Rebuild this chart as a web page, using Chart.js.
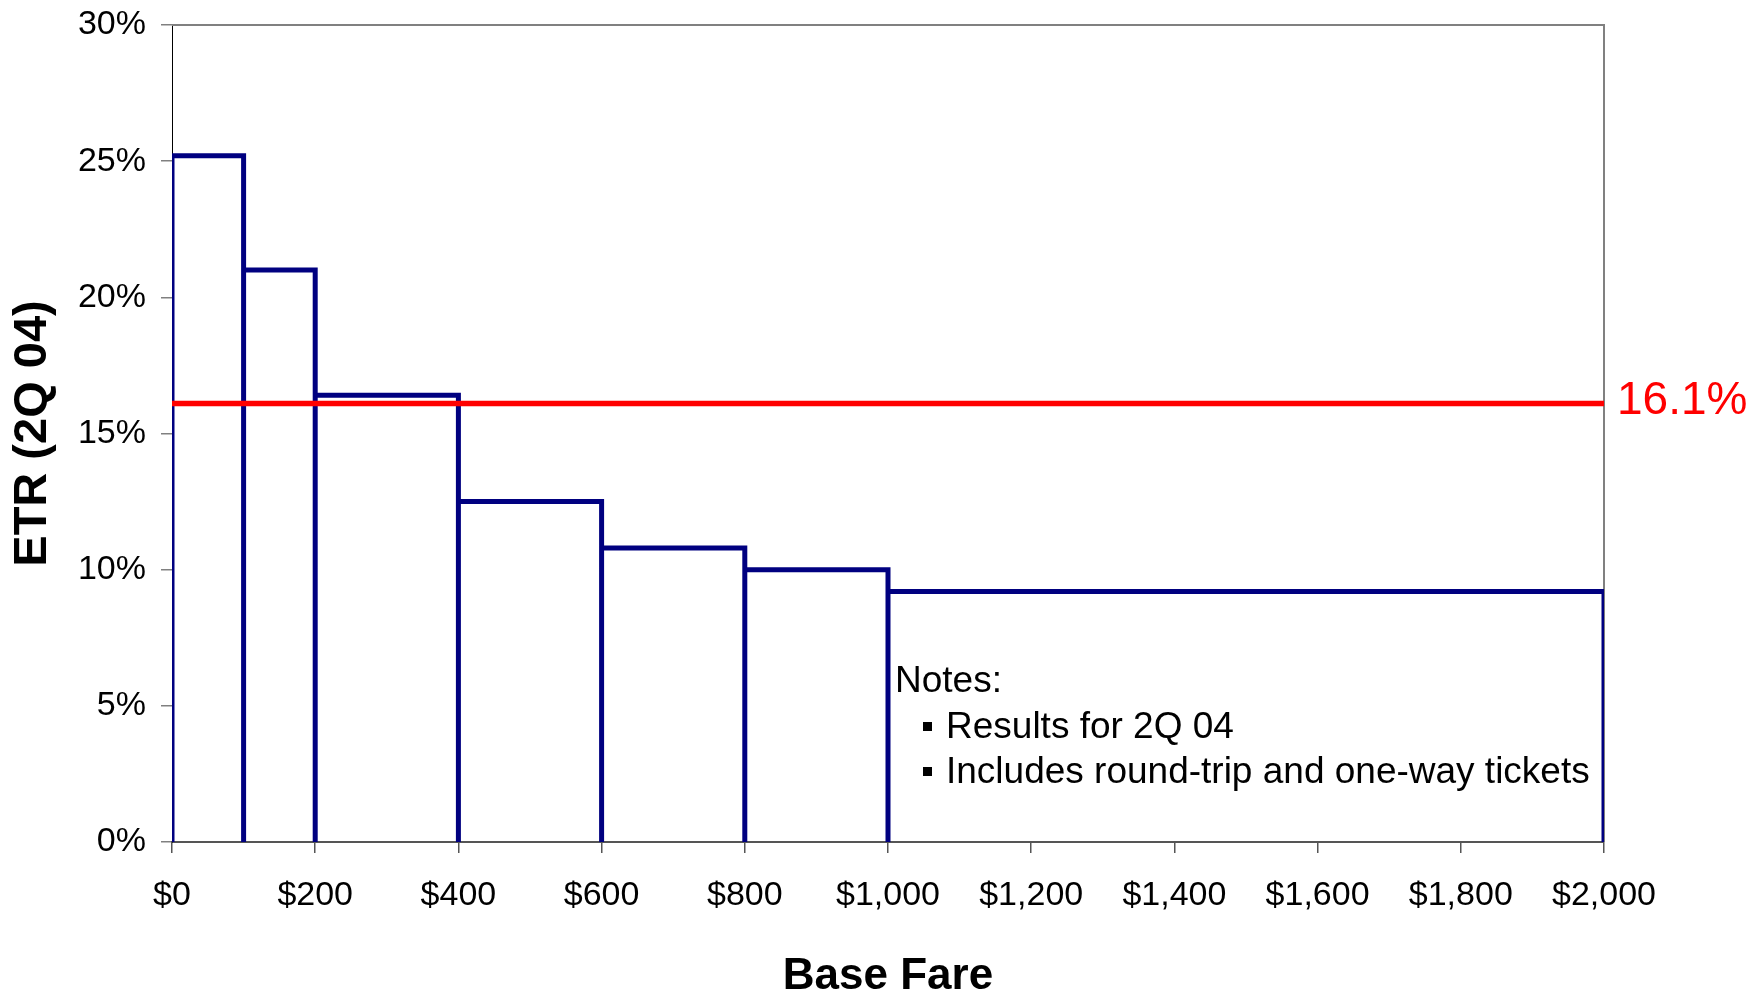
<!DOCTYPE html>
<html>
<head>
<meta charset="utf-8">
<script src="https://cdn.jsdelivr.net/npm/chart.js@4"></script>
<style>
  html, body { margin: 0; padding: 0; background: #fff; }
</style>
</head>
<body>
<canvas id="chart" width="1755" height="992"></canvas>
<script>
// fare bands ($) and effective tax rate (%) per band
const fareEdges = [0, 100, 200, 400, 600, 800, 1000, 2000];
const etrValues = [25.2, 21.0, 16.4, 12.5, 10.8, 10.0, 9.2];
const averageEtr = 16.1;
const xTickValues = [0, 200, 400, 600, 800, 1000, 1200, 1400, 1600, 1800, 2000];
const yTickValues = [0, 5, 10, 15, 20, 25, 30];
const noteLines = ['Results for 2Q 04', 'Includes round-trip and one-way tickets'];

const FONT = "'Liberation Sans', Arial, sans-serif";

// each band is drawn as an open box: up, across, down
const stepPoints = [];
etrValues.forEach((v, i) => {
  stepPoints.push({ x: fareEdges[i], y: 0 });
  stepPoints.push({ x: fareEdges[i], y: v });
  stepPoints.push({ x: fareEdges[i + 1], y: v });
  stepPoints.push({ x: fareEdges[i + 1], y: 0 });
});

const avgPoints = [
  { x: fareEdges[0], y: averageEtr },
  { x: fareEdges[fareEdges.length - 1], y: averageEtr }
];

const framePlugin = {
  id: 'frame',
  beforeDatasetsDraw(chart) {
    const { ctx, chartArea: a } = chart;
    ctx.save();
    ctx.strokeStyle = '#808080';
    ctx.lineWidth = 2;
    ctx.beginPath();
    ctx.moveTo(a.left, a.top);
    ctx.lineTo(a.right, a.top);
    ctx.lineTo(a.right, a.bottom);
    ctx.stroke();
    ctx.restore();
  },
  afterDatasetsDraw(chart) {
    const { ctx, chartArea: a, scales } = chart;
    ctx.save();

    // average label at the end of the red line
    ctx.fillStyle = '#ff0000';
    ctx.font = '46px ' + FONT;
    ctx.textBaseline = 'middle';
    ctx.textAlign = 'left';
    ctx.fillText(averageEtr.toFixed(1) + '%', a.right + 13, scales.y.getPixelForValue(averageEtr) - 2);

    // notes block
    const nx = scales.x.getPixelForValue(1000) + 7;
    ctx.fillStyle = '#000';
    ctx.font = '37px ' + FONT;
    ctx.fillText('Notes:', nx, 682);
    noteLines.forEach((line, i) => {
      const ly = 728 + i * 45;
      ctx.fillRect(nx + 28, ly - 6, 9, 9);
      ctx.fillText(line, nx + 51, ly);
    });
    ctx.restore();
  }
};

new Chart(document.getElementById('chart'), {
  type: 'line',
  data: {
    datasets: [
      {
        data: avgPoints,
        borderColor: '#ff0000',
        borderWidth: 5.5,
        pointRadius: 0,
        order: 0
      },
      {
        data: stepPoints,
        borderColor: '#000080',
        borderWidth: 5,
        pointRadius: 0,
        borderJoinStyle: 'miter',
        order: 1
      }
    ]
  },
  options: {
    responsive: false,
    animation: false,
    devicePixelRatio: 1,
    layout: { padding: { top: 25, right: 151, left: 0, bottom: 0 } },
    plugins: {
      legend: { display: false },
      tooltip: { enabled: false }
    },
    scales: {
      x: {
        type: 'linear',
        min: 0,
        max: 2000,
        afterBuildTicks: s => { s.ticks = xTickValues.map(v => ({ value: v })); },
        afterFit: s => { s.height = 150; },
        ticks: {
          color: '#000',
          font: { family: FONT, size: 34 },
          padding: 22,
          maxRotation: 0,
          autoSkip: false,
          callback: v => '$' + v.toLocaleString('en-US')
        },
        grid: { drawOnChartArea: false, tickLength: 11, color: '#555', lineWidth: 1.5 },
        border: { color: '#555', width: 2 },
        title: {
          display: true,
          text: 'Base Fare',
          color: '#000',
          font: { family: FONT, size: 44, weight: 'bold', lineHeight: 0.7 },
          padding: { top: 0, bottom: 0 }
        }
      },
      y: {
        min: 0,
        max: 30,
        afterBuildTicks: s => { s.ticks = yTickValues.map(v => ({ value: v })); },
        afterFit: s => {
          s.width = 172;
          s.paddingTop = 0;
          s.paddingBottom = 0;
        },
        ticks: {
          color: '#000',
          font: { family: FONT, size: 34 },
          padding: 15,
          callback: v => v + '%'
        },
        grid: { drawOnChartArea: false, tickLength: 11, color: '#808080', lineWidth: 1.5 },
        border: { color: '#000', width: 1 },
        title: {
          display: true,
          text: 'ETR (2Q 04)',
          color: '#000',
          font: { family: FONT, size: 47, weight: 'bold', lineHeight: 1 },
          padding: { top: 10, bottom: 0 }
        }
      }
    }
  },
  plugins: [framePlugin]
});
</script>
</body>
</html>
